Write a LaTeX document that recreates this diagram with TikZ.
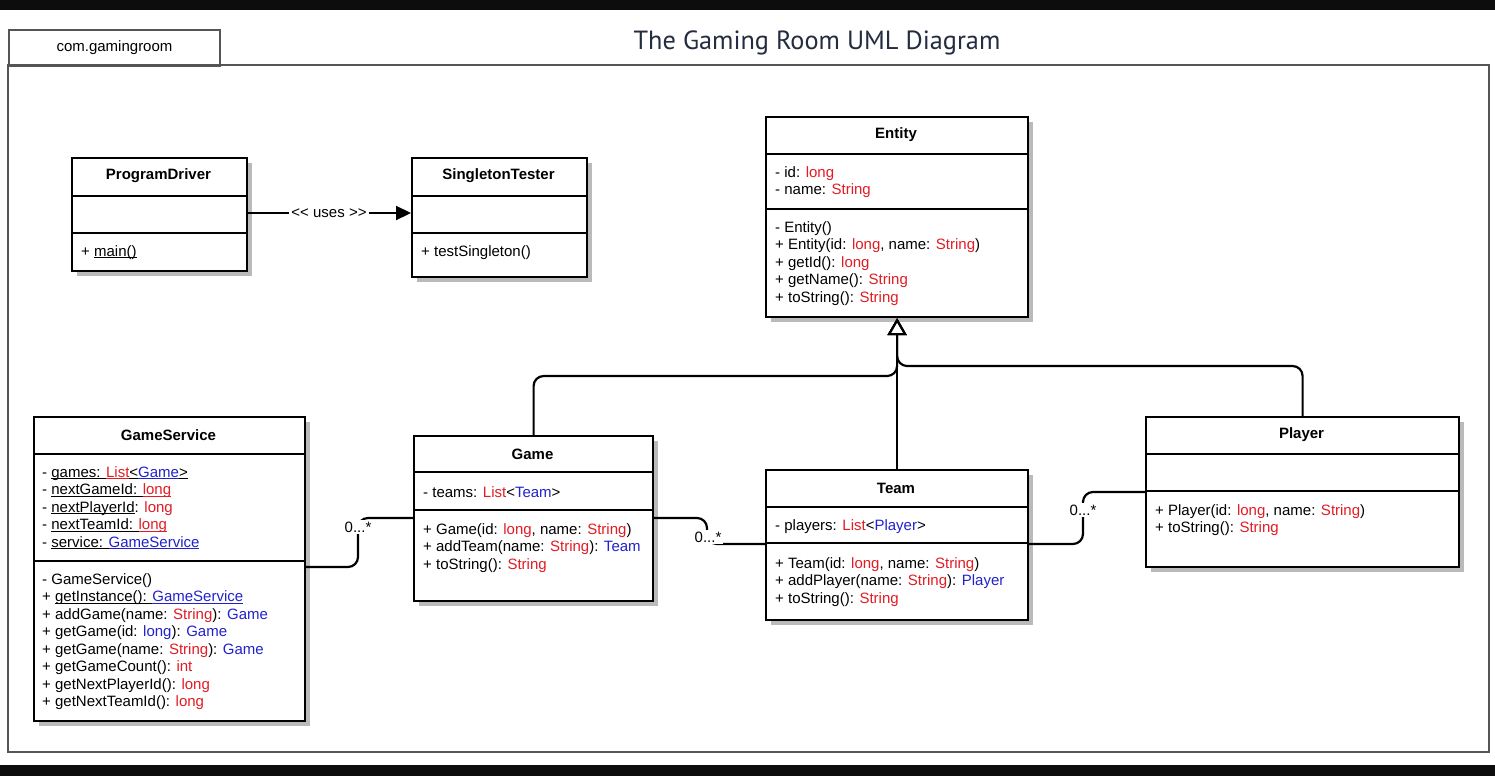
\documentclass[tikz,border=0pt]{standalone}
\usepackage{fontspec}
\setmainfont{Liberation Sans}[Ligatures=TeXOff]
\newfontfamily\titlefont{PT Sans}
\usetikzlibrary{shadows,arrows.meta,calc}
\definecolor{myred}{RGB}{226,28,36}
\definecolor{myblue}{RGB}{34,34,204}
\definecolor{titlecol}{RGB}{36,44,64}
\definecolor{framecol}{RGB}{85,85,85}
\definecolor{bandcol}{RGB}{13,13,13}
\newcommand\R[1]{\textcolor{myred}{#1}}
\newcommand\B[1]{\textcolor{myblue}{#1}}
\newcommand\U[2][black]{{\color{#1}$\underline{\hbox{\smash{#2}\vphantom{x}}}$}}
\newcommand\members[4]{\foreach \t [count=\i] in {#4} {\node[mem] (#1-\i) at (#2,{#3+5+17.5*(\i-1)}) {\t};}}
\tikzset{
  box/.style={draw=black, line width=2.2pt, fill=white, anchor=north west, inner sep=0pt,
    drop shadow={shadow xshift=5pt, shadow yshift=-5pt, fill=black!27, opacity=1}},
  divider/.style={line width=2.2pt, black},
  hdr/.style={font=\fontsize{15}{17.5}\selectfont\bfseries, inner sep=0pt},
  mem/.style={anchor=base west, inner sep=0pt, font=\fontsize{15}{17.5}\selectfont},
  assoc/.style={line width=2.2pt, rounded corners=10pt},
  inh/.style={line width=2.2pt, rounded corners=10pt, -{Triangle[open, length=17pt, width=19pt, fill=white]}},
  uses/.style={line width=2.2pt, -{Triangle[length=15pt, width=14pt]}},
  mult/.style={fill=white, inner sep=1.5pt, font=\fontsize{15}{17.5}\selectfont},
}
\begin{document}
\begin{tikzpicture}[x=1pt, y=-1pt]
\useasboundingbox (0,0) rectangle (1495,776);
\fill[white] (0,0) rectangle (1495,776);
\fill[bandcol] (0,0) rectangle (1495,10);
\fill[bandcol] (0,765) rectangle (1495,776);
% package frame
\draw[framecol, line width=2pt] (8,65) rectangle (1489,752);
\node[draw=framecol, line width=2pt, anchor=north west, minimum width=211pt, minimum height=36pt,
  inner sep=0pt, font=\fontsize{15}{17.5}\selectfont] (pkg) at (8,29) {com.gamingroom};
\node[inner sep=0pt, text=titlecol, font=\titlefont\fontsize{26.3}{30}\selectfont] (title) at (817,43) {The Gaming Room UML Diagram};

% ProgramDriver
\node[box, minimum width=175pt, minimum height=113pt] (pd) at (71,157) {};
\draw[divider] (71,196) -- (246,196);
\draw[divider] (71,233) -- (246,233);
\node[hdr] (pd-h) at (158.5,176) {ProgramDriver};
\members{pdm}{81}{251}{{+ \U{main()}}}

% SingletonTester
\node[box, minimum width=175pt, minimum height=119pt] (st) at (411,157) {};
\draw[divider] (411,196) -- (586,196);
\draw[divider] (411,233) -- (586,233);
\node[hdr] (st-h) at (498.5,176) {SingletonTester};
\members{stm}{421}{251}{{+ testSingleton()}}

% Entity
\node[box, minimum width=262pt, minimum height=200pt] (entity) at (765,116) {};
\draw[divider] (765,154) -- (1027,154);
\draw[divider] (765,209) -- (1027,209);
\node[hdr] (entity-h) at (896,135) {Entity};
\members{enta}{775}{172}{{- id: \R{long}},{- name: \R{String}}}
\members{entm}{775}{227}{{- Entity()},{+ Entity(id: \R{long}, name: \R{String})},{+ getId(): \R{long}},{+ getName(): \R{String}},{+ toString(): \R{String}}}

% GameService
\node[box, minimum width=271pt, minimum height=304pt] (gs) at (33,416) {};
\draw[divider] (33,454) -- (304,454);
\draw[divider] (33,561) -- (304,561);
\node[hdr] (gs-h) at (168.5,435) {GameService};
\members{gsa}{42}{472}{{- \U{games: }\U[myred]{List}\U{<}\U[myblue]{Game}\U{>}},{- \U{nextGameId: }\U[myred]{long}},{- \U{nextPlayerId}: \R{long}},{- \U{nextTeamId: }\U[myred]{long}},{- \U{service: }\U[myblue]{GameService}}}
\members{gsm}{42}{579}{{- GameService()},{+ \U{getInstance(): }\U[myblue]{GameService}},{+ addGame(name: \R{String}): \B{Game}},{+ getGame(id: \B{long}): \B{Game}},{+ getGame(name: \R{String}): \B{Game}},{+ getGameCount(): \R{int}},{+ getNextPlayerId(): \R{long}},{+ getNextTeamId(): \R{long}}}

% Game
\node[box, minimum width=239pt, minimum height=165pt] (game) at (413,435) {};
\draw[divider] (413,472) -- (652,472);
\draw[divider] (413,510) -- (652,510);
\node[hdr] (game-h) at (532.5,454) {Game};
\members{gma}{423}{492}{{- teams: \R{List}<\B{Team}>}}
\members{gmm}{423}{529}{{+ Game(id: \R{long}, name: \R{String})},{+ addTeam(name: \R{String}): \B{Team}},{+ toString(): \R{String}}}

% Team
\node[box, minimum width=262pt, minimum height=150pt] (team) at (765,469) {};
\draw[divider] (765,507) -- (1027,507);
\draw[divider] (765,543) -- (1027,543);
\node[hdr] (team-h) at (896,488) {Team};
\members{tma}{775}{525}{{- players: \R{List}<\B{Player}>}}
\members{tmm}{775}{563}{{+ Team(id: \R{long}, name: \R{String})},{+ addPlayer(name: \R{String}): \B{Player}},{+ toString(): \R{String}}}

% Player
\node[box, minimum width=313pt, minimum height=150pt] (player) at (1145,416) {};
\draw[divider] (1145,454) -- (1458,454);
\draw[divider] (1145,491) -- (1458,491);
\node[hdr] (player-h) at (1301.5,435) {Player};
\members{plm}{1155}{510}{{+ Player(id: \R{long}, name: \R{String})},{+ toString(): \R{String}}}

% helper coordinates
\coordinate (yU) at (0,213);
\coordinate (yA) at (0,567);
\coordinate (yB) at (0,518);
\coordinate (yC) at (0,544);
\coordinate (yD) at (0,492);
\coordinate (yL) at (0,376);
\coordinate (yR) at (0,366);
\coordinate (xA) at (358,0);
\coordinate (xB) at (707,0);
\coordinate (xC) at (1083,0);

% uses
\draw[uses] (pd.east |- yU) -- (st.west |- yU);
\node[fill=white, inner sep=2pt, font=\fontsize{15}{17.5}\selectfont] (useslbl) at (329,213) {<< uses >>};

% inheritance
\draw[inh] (team.north) -- (entity.south);
\draw[inh] (game.north) -- (game.north |- yL) -- (entity.south |- yL) -- (entity.south);
\draw[inh] (player.north) -- (player.north |- yR) -- (entity.south |- yR) -- (entity.south);

% associations
\draw[assoc] (gs.east |- yA) -- (xA |- yA) -- (xA |- yB) -- (game.west |- yB);
\node[mult] (mA) at (358,527) {0...*};
\draw[assoc] (game.east |- yB) -- (xB |- yB) -- (xB |- yC) -- (team.west |- yC);
\node[mult] (mB) at (708,537) {0...*};
\draw[assoc] (team.east |- yC) -- (xC |- yC) -- (xC |- yD) -- (player.west |- yD);
\node[mult] (mC) at (1083,510) {0...*};
\end{tikzpicture}
\end{document}
